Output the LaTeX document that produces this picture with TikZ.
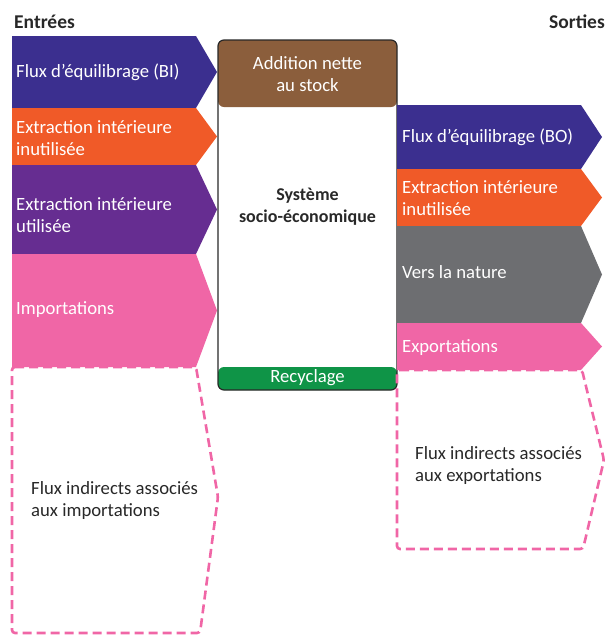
\documentclass[tikz,border=0pt]{standalone}
\usepackage{fontspec}
\setmainfont{Carlito}
\usetikzlibrary{positioning}

\definecolor{bilanblue}{RGB}{59,47,143}
\definecolor{extorange}{RGB}{240,90,40}
\definecolor{extpurple}{RGB}{102,45,145}
\definecolor{tradepink}{RGB}{240,102,166}
\definecolor{stockbrown}{RGB}{139,94,60}
\definecolor{naturegray}{RGB}{109,110,113}
\definecolor{recygreen}{RGB}{15,148,71}
\definecolor{inktext}{RGB}{40,40,40}

% one flow band: top, bottom, colour (x runs 0..205 inside a column scope)
\newcommand{\flowband}[3]{\fill[#3] (0,#1) -- (184,#1) -- (205,{(#1+#2)/2}) -- (184,#2) -- (0,#2) -- cycle;}

\begin{document}
\begin{tikzpicture}[x=1pt, y=-1pt, every node/.style={font=\fontsize{18.7}{22}\selectfont, inner sep=0pt},
  lbl/.style={text=white, anchor=west, align=left},
  ind/.style={draw=tradepink, dash pattern=on 9pt off 5pt, line width=2.6pt, rounded corners=3pt},
  head/.style={font=\fontsize{18}{22}\selectfont\bfseries, text=inktext}]
  \useasboundingbox (0,0) rectangle (608,635);

  \node[head, font=\fontsize{19.5}{22}\selectfont\bfseries, anchor=west] (entrees) at (14,22) {Entrées};
  \node[head, font=\fontsize{19.5}{22}\selectfont\bfseries, anchor=east] (sorties) at (605,22) {Sorties};

  % inputs
  \begin{scope}[xshift=12]
    \flowband{36}{108}{bilanblue}
    \flowband{108}{165}{extorange}
    \flowband{165}{254}{extpurple}
    \flowband{254}{367}{tradepink}
    \node[lbl] (bi) at (4,72) {Flux d’équilibrage (BI)};
    \node[lbl] (inutIn) at (4,138) {Extraction intérieure\\inutilisée};
    \node[lbl] (util) at (4,215) {Extraction intérieure\\utilisée};
    \node[lbl] (imp) at (4,310) {Importations};
    \draw[ind] (0,367) -- (184,367) -- (206,497) -- (188,633) -- (0,633) -- cycle;
    \node[lbl, text=inktext] (indImp) at (19,501) {Flux indirects associés\\aux importations};
  \end{scope}

  % the socio-economic system
  \fill[stockbrown, rounded corners=6pt] (218,40) rectangle (397,107);
  \fill[recygreen, rounded corners=6pt] (218,367) rectangle (397,390);
  \draw[inktext, line width=1.2pt, rounded corners=6pt] (218,40) rectangle (397,390);
  \node[text=white, align=center] (stock) at (307.5,74) {Addition nette\\au stock};
  \node[head, align=center] (sys) at (307.5,207) {Système\\socio-économique};
  \node[text=white] (recy) at (307.5,378) {Recyclage};

  % outputs
  \begin{scope}[xshift=397]
    \flowband{105}{169}{bilanblue}
    \flowband{169}{226}{extorange}
    \flowband{226}{323}{naturegray}
    \flowband{323}{370}{tradepink}
    \node[lbl] (bo) at (5,137) {Flux d’équilibrage (BO)};
    \node[lbl] (inutOut) at (5,198) {Extraction intérieure\\inutilisée};
    \node[lbl] (nature) at (5,272) {Vers la nature};
    \node[lbl] (exp) at (5,348) {Exportations};
    \draw[ind] (0,370) -- (185,370) -- (207,460) -- (186,549) -- (0,549) -- cycle;
    \node[lbl, text=inktext] (indExp) at (18,466) {Flux indirects associés\\aux exportations};
  \end{scope}
\end{tikzpicture}
\end{document}
